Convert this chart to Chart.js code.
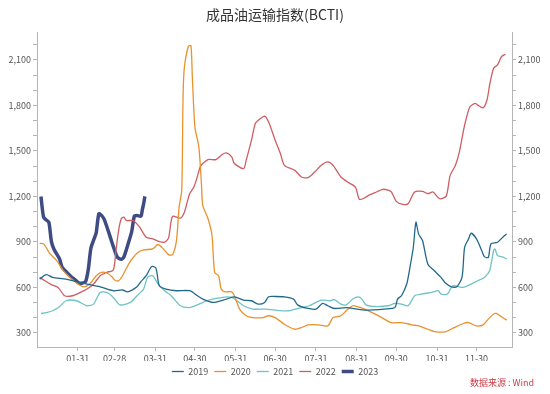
<!DOCTYPE html>
<html>
<head>
<meta charset="utf-8">
<script src="https://cdn.jsdelivr.net/npm/chart.js@4"></script>
<style>
  html, body { margin: 0; padding: 0; background: #fff; }
  #wrap { width: 550px; height: 394px; position: relative; }
</style>
</head>
<body>
<div id="wrap"><canvas id="grafica"></canvas></div>
<script>
// eje x: dia del año, etiquetas en fin de mes
const diasTicks = [31, 59, 90, 120, 151, 181, 212, 243, 273, 304, 334];
const etiquetasX = ['01-31', '02-28', '03-31', '04-30', '05-31', '06-30', '07-31', '08-31', '09-30', '10-31', '11-30'];
const valoresTicksY = [300, 400, 500, 600, 700, 800, 900, 1000, 1100, 1200, 1300, 1400, 1500, 1600, 1700, 1800, 1900, 2000, 2100, 2200];

const dias2019 = [2, 7, 12, 22, 32, 38, 48, 58, 65, 69, 76, 79, 83, 87, 90, 91, 93, 98, 106, 116, 122, 126, 134, 144, 150, 157, 163, 168, 173, 176, 181, 188, 195, 198, 205, 212, 217, 221, 226, 235, 243, 249, 264, 272, 274, 277, 281, 283, 286, 288, 290, 293, 297, 302, 307, 310, 315, 319, 323, 325, 328, 330, 334, 338, 340, 343, 345, 350, 354, 357];
const valores2019 = [655, 684, 666, 655, 633, 622, 604, 578, 583, 571, 604, 638, 677, 737, 732, 706, 611, 589, 578, 578, 545, 523, 501, 523, 538, 516, 512, 490, 501, 538, 540, 538, 523, 485, 463, 457, 494, 479, 461, 467, 457, 450, 457, 467, 523, 545, 622, 710, 865, 1030, 953, 909, 755, 710, 666, 633, 604, 604, 666, 865, 920, 957, 920, 843, 803, 798, 887, 898, 931, 953];

const dias2020 = [2, 5, 10, 15, 20, 25, 32, 36, 40, 45, 49, 53, 57, 59, 62, 65, 70, 76, 81, 88, 92, 96, 100, 103, 106, 108, 110, 111, 112, 115, 117, 118, 120, 123, 125, 126, 130, 133, 135, 138, 140, 143, 148, 150, 154, 159, 164, 172, 176, 181, 188, 196, 201, 206, 214, 221, 225, 231, 235, 240, 244, 249, 257, 262, 269, 277, 285, 290, 297, 302, 310, 317, 324, 328, 334, 339, 343, 347, 349, 353, 357];
const valores2020 = [891, 887, 821, 777, 710, 666, 618, 604, 622, 677, 699, 695, 671, 649, 644, 677, 759, 825, 847, 854, 883, 854, 816, 816, 909, 1130, 1240, 1858, 2050, 2189, 2193, 2000, 1659, 1527, 1280, 1141, 1053, 942, 699, 677, 589, 571, 571, 545, 457, 413, 401, 401, 413, 401, 357, 324, 335, 353, 353, 346, 401, 413, 446, 479, 472, 457, 424, 401, 368, 368, 353, 346, 324, 309, 307, 335, 362, 368, 346, 353, 391, 424, 428, 406, 384];

const dias2021 = [3, 7, 12, 17, 22, 30, 38, 43, 48, 53, 58, 63, 71, 76, 81, 84, 88, 92, 97, 102, 109, 116, 122, 129, 136, 144, 149, 157, 164, 174, 181, 191, 201, 207, 212, 216, 223, 226, 231, 235, 240, 244, 247, 250, 257, 267, 272, 277, 282, 287, 292, 300, 305, 307, 312, 316, 324, 330, 335, 340, 344, 347, 348, 350, 353, 357];
const valores2021 = [428, 434, 446, 472, 512, 512, 479, 490, 567, 567, 534, 485, 501, 545, 589, 666, 677, 622, 578, 545, 479, 467, 485, 512, 527, 538, 530, 479, 457, 457, 450, 446, 467, 479, 501, 516, 512, 520, 490, 485, 523, 538, 523, 485, 474, 479, 494, 490, 479, 545, 556, 567, 578, 556, 556, 611, 600, 622, 644, 666, 710, 843, 854, 810, 803, 788];

const dias2022 = [2, 6, 11, 16, 21, 27, 33, 38, 43, 48, 53, 58, 60, 62, 64, 66, 68, 73, 78, 83, 88, 93, 97, 100, 103, 109, 112, 116, 119, 121, 124, 126, 130, 136, 141, 144, 148, 150, 157, 159, 163, 166, 169, 173, 176, 181, 185, 188, 196, 201, 206, 211, 216, 221, 225, 231, 236, 242, 245, 249, 252, 257, 263, 269, 273, 278, 282, 287, 293, 297, 301, 306, 311, 314, 318, 321, 325, 329, 333, 335, 339, 342, 344, 347, 350, 353, 356];
const valores2022 = [666, 644, 618, 600, 545, 545, 567, 589, 622, 677, 699, 715, 843, 975, 1053, 1063, 1041, 1041, 997, 931, 920, 902, 898, 927, 1068, 1057, 1096, 1218, 1258, 1306, 1394, 1417, 1443, 1443, 1478, 1487, 1461, 1417, 1383, 1439, 1571, 1682, 1708, 1730, 1692, 1571, 1483, 1405, 1372, 1328, 1324, 1361, 1405, 1428, 1405, 1328, 1295, 1262, 1180, 1190, 1207, 1225, 1247, 1233, 1167, 1147, 1152, 1229, 1233, 1218, 1229, 1185, 1202, 1339, 1405, 1494, 1670, 1791, 1813, 1802, 1784, 1836, 1935, 2045, 2067, 2122, 2138];

const dias2023 = [3, 5, 7, 9, 11, 13, 17, 19, 22, 26, 29, 32, 35, 37, 39, 41, 44, 45, 47, 49, 51, 55, 58, 61, 64, 66, 69, 72, 74, 76, 79, 80, 81, 82];
const valores2023 = [1200, 1063, 1045, 1030, 900, 850, 790, 735, 705, 670, 650, 628, 630, 640, 720, 860, 935, 960, 1085, 1075, 1050, 950, 870, 800, 785, 800, 880, 970, 1070, 1075, 1070, 1110, 1150, 1200];

function armarPuntos(dias, valores) {
    return dias.map((d, i) => ({ x: d, y: valores[i] }));
}

const fuente = '"Noto Sans CJK SC", "Noto Sans", sans-serif';

const series = [
    { label: '2019', dias: dias2019, valores: valores2019, color: '#22688a', ancho: 1.3 },
    { label: '2020', dias: dias2020, valores: valores2020, color: '#e8922e', ancho: 1.3 },
    { label: '2021', dias: dias2021, valores: valores2021, color: '#6fc3c3', ancho: 1.3 },
    { label: '2022', dias: dias2022, valores: valores2022, color: '#cf5d61', ancho: 1.3 },
    { label: '2023', dias: dias2023, valores: valores2023, color: '#3f4c84', ancho: 3.5 }
];

const datasets = series.map(s => ({
    label: s.label,
    data: armarPuntos(s.dias, s.valores),
    borderColor: s.color,
    backgroundColor: s.color,
    borderWidth: s.ancho,
    pointRadius: 0,
    tension: 0.25,
    fill: false
}));

// texto de la fuente abajo a la derecha
const fuenteDatos = {
    id: 'fuenteDatos',
    afterDraw(chart) {
        const ctx = chart.ctx;
        ctx.save();
        ctx.font = '9px ' + fuente;
        ctx.fillStyle = '#cc3b47';
        ctx.textAlign = 'right';
        ctx.textBaseline = 'middle';
        ctx.fillText('数据来源 : Wind', 534, 383);
        ctx.restore();
    }
};

function ejeY(posicion, ancho) {
    return {
        type: 'linear',
        position: posicion,
        min: 207,
        max: 2279,
        afterBuildTicks: axis => { axis.ticks = valoresTicksY.map(v => ({ value: v })); },
        afterFit: axis => { axis.width = ancho; },
        border: { color: '#b5b5b5' },
        grid: { drawOnChartArea: false, tickLength: 4, color: '#b5b5b5' },
        ticks: {
            autoSkip: false,
            padding: 2,
            color: '#555',
            font: { family: fuente, size: 9 },
            callback: v => (v % 300 === 0 ? v.toLocaleString('en-US') : '')
        }
    };
}

new Chart(document.getElementById('grafica'), {
    type: 'line',
    data: { datasets },
    options: {
        responsive: true,
        maintainAspectRatio: false,
        animation: false,
        layout: { padding: { left: 0, right: 0, top: 0, bottom: 8 } },
        plugins: {
            title: {
                display: true,
                text: '成品油运输指数(BCTI)',
                color: '#333',
                font: { family: fuente, size: 14, weight: 'normal' },
                padding: { top: 6, bottom: 10 }
            },
            legend: {
                position: 'bottom',
                labels: {
                    usePointStyle: true,
                    pointStyle: 'line',
                    pointStyleWidth: 12,
                    boxHeight: 10,
                    padding: 6,
                    color: '#555',
                    font: { family: fuente, size: 9 }
                }
            },
            tooltip: { enabled: false }
        },
        scales: {
            x: {
                type: 'linear',
                min: 0,
                max: 361,
                afterBuildTicks: axis => { axis.ticks = diasTicks.map(d => ({ value: d })); },
                afterFit: axis => { axis.height = 14; },
                border: { color: '#b5b5b5' },
                grid: { drawOnChartArea: false, tickLength: 4, color: '#b5b5b5' },
                ticks: {
                    autoSkip: false,
                    maxRotation: 0,
                    padding: 2,
                    color: '#555',
                    font: { family: fuente, size: 9 },
                    callback: v => etiquetasX[diasTicks.indexOf(v)]
                }
            },
            y: ejeY('left', 37),
            y1: ejeY('right', 38)
        }
    },
    plugins: [fuenteDatos]
});
</script>
</body>
</html>
